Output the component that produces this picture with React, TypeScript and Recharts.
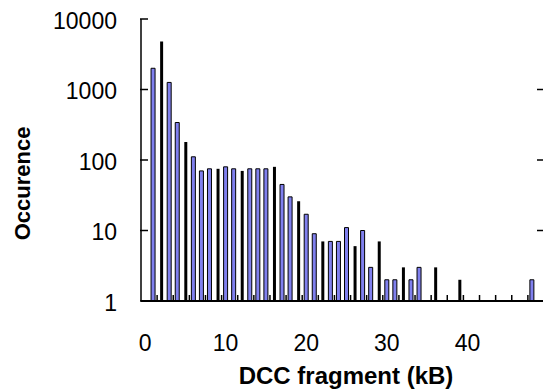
import { BarChart, Bar, XAxis, YAxis, Label } from "recharts";

// fragment size (kB) -> occurrence count
const blueKB = [1, 3, 4, 6, 7, 8, 10, 11, 13, 14, 15, 17, 18, 20, 21, 23, 24, 25, 27, 28, 30, 31, 33, 34, 48];
const blueCounts = [2000, 1260, 340, 111, 70, 75, 80, 75, 75, 75, 75, 45, 30, 17, 9, 7, 7, 11, 10, 3, 2, 2, 2, 3, 2];
const blackKB = [2, 5, 9, 12, 16, 19, 22, 26, 29, 32, 36, 39];
const blackCounts = [4800, 180, 75, 70, 80, 26, 7, 6, 7, 3, 3, 2];

const yTicks = [1, 10, 100, 1000, 10000];
const yRightTicks = [10, 100, 1000];
const xLabelTicks = [0, 10, 20, 30, 40];
const xStubTicks = [
  1.5, 3.5, 5.5, 7.5, 9.5, 11.5, 13.5, 15.5, 17.5, 19.5, 21.5, 23.5,
  25.5, 27.5, 29.5, 31.5, 33.5, 35.5, 37.5, 39.5, 41.5, 43.5, 45.5, 47.5,
];
const xDomain = [-0.5, 49.5];

const FONT = "'Liberation Sans', Arial, Helvetica, sans-serif";
const BLUE = "#8080ee";
const X_TICK_MARGIN = 10;
const Y_TICK_MARGIN = 24;

type Row = { kb: number; blue?: number; black?: number };

const rows: Row[] = [
  ...blueKB.map((kb, i) => ({ kb, blue: blueCounts[i] })),
  ...blackKB.map((kb, i) => ({ kb, black: blackCounts[i] })),
].sort((a, b) => a.kb - b.kb);

function BottomTick(props: any) {
  const { x, y, payload } = props;
  const axisY = y - X_TICK_MARGIN;
  if (xLabelTicks.includes(payload.value)) {
    return (
      <text x={x} y={axisY + 50} textAnchor="middle" fontSize={23} fontFamily={FONT} fill="#000">
        {payload.value}
      </text>
    );
  }
  return <line x1={x} x2={x} y1={axisY} y2={axisY - 6} stroke="#000" strokeWidth={1.5} />;
}

function LeftTick(props: any) {
  const { x, y, payload } = props;
  const axisX = x + Y_TICK_MARGIN;
  return (
    <g>
      <line x1={axisX - 1} x2={axisX + 7} y1={y} y2={y} stroke="#000" strokeWidth={1.5} />
      <text x={x} y={y + 9.5} textAnchor="end" fontSize={23} fontFamily={FONT} fill="#000">
        {payload.value}
      </text>
    </g>
  );
}

function RightTick(props: any) {
  const { x, y } = props;
  return <line x1={x - 7} x2={x} y1={y} y2={y} stroke="#000" strokeWidth={1.5} />;
}

export default function App() {
  return (
    <div
      style={{
        position: "absolute",
        left: 0,
        top: 0,
        width: 543,
        height: 391,
        overflow: "hidden",
        background: "#fff",
      }}
    >
      <BarChart
        width={560}
        height={391}
        data={rows}
        margin={{ top: 19, right: 6, bottom: 0, left: 0 }}
      >
        <XAxis
          xAxisId="main"
          dataKey="kb"
          type="number"
          domain={xDomain}
          allowDataOverflow
          ticks={[...xLabelTicks, ...xStubTicks]}
          interval={0}
          tick={<BottomTick />}
          tickLine={false}
          tickSize={0}
          tickMargin={X_TICK_MARGIN}
          height={90}
          axisLine={{ stroke: "#000", strokeWidth: 2 }}
        >
          <Label
            content={() => (
              <text
                x={346}
                y={384}
                textAnchor="middle"
                fontSize={24}
                fontWeight="bold"
                fontFamily={FONT}
                fill="#000"
              >
                DCC fragment (kB)
              </text>
            )}
          />
        </XAxis>
        <XAxis xAxisId="blueAxis" dataKey="kb" type="number" domain={xDomain} allowDataOverflow hide height={0} />
        <XAxis xAxisId="blackAxis" dataKey="kb" type="number" domain={xDomain} allowDataOverflow hide height={0} />
        <YAxis
          scale="log"
          type="number"
          domain={[1, 10000]}
          allowDataOverflow
          ticks={yTicks}
          interval={0}
          width={141}
          tick={<LeftTick />}
          tickLine={false}
          tickSize={0}
          tickMargin={Y_TICK_MARGIN}
          axisLine={{ stroke: "#000", strokeWidth: 1.5 }}
        >
          <Label
            content={() => (
              <text
                transform="translate(30,183.5) rotate(-90)"
                textAnchor="middle"
                fontSize={22}
                fontWeight="bold"
                fontFamily={FONT}
                fill="#000"
              >
                Occurence
              </text>
            )}
          />
        </YAxis>
        <YAxis
          yAxisId="right"
          orientation="right"
          scale="log"
          type="number"
          domain={[1, 10000]}
          allowDataOverflow
          ticks={yRightTicks}
          interval={0}
          width={10}
          tick={<RightTick />}
          tickLine={false}
          tickSize={0}
          tickMargin={0}
          axisLine={{ stroke: "#000", strokeWidth: 1.5 }}
        />
        <Bar
          xAxisId="blueAxis"
          dataKey="blue"
          fill={BLUE}
          stroke="#000"
          strokeWidth={1}
          barSize={4}
          isAnimationActive={false}
        />
        <Bar
          xAxisId="blackAxis"
          dataKey="black"
          fill="#000"
          barSize={3}
          isAnimationActive={false}
        />
      </BarChart>
    </div>
  );
}
